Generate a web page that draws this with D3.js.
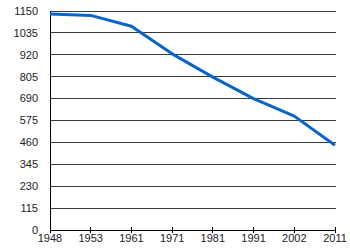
<!DOCTYPE html>
<html><head><meta charset="utf-8">
<script src="https://cdn.jsdelivr.net/npm/d3@7"></script>
<style>body{margin:0;background:#fff}svg{display:block}text{font-family:"Liberation Sans",Arial,sans-serif;font-size:11px;fill:#222}</style>
</head><body>
<svg id="c" width="350" height="250"></svg>
<script>
const years = ["1948","1953","1961","1971","1981","1991","2002","2011"];
const values = [1134,1127,1070,925,803,690,598,445];
const yTicks = [0,115,230,345,460,575,690,805,920,1035,1150];

const svg = d3.select("#c");
const x = d3.scalePoint().domain(years).range([50,335]);
const y = d3.scaleLinear().domain([0,1150]).range([230,11]);

svg.append("g").selectAll("line").data(yTicks.slice(1)).join("line")
  .attr("x1",50).attr("x2",336).attr("y1",d=>y(d)).attr("y2",d=>y(d))
  .attr("stroke","#3a3a3a").attr("stroke-width",1).attr("shape-rendering","crispEdges");

svg.append("g").selectAll("text").data(yTicks).join("text")
  .attr("x",38).attr("y",d=>y(d)).attr("dy","0.35em").attr("text-anchor","end").text(d=>d);

svg.append("line").attr("x1",50).attr("x2",50).attr("y1",y(1150)).attr("y2",230)
  .attr("stroke","#000").attr("shape-rendering","crispEdges");
svg.append("line").attr("x1",50).attr("x2",336).attr("y1",230).attr("y2",230)
  .attr("stroke","#000").attr("shape-rendering","crispEdges");

svg.append("g").selectAll("line").data(years).join("line")
  .attr("x1",d=>x(d)).attr("x2",d=>x(d)).attr("y1",227).attr("y2",233)
  .attr("stroke","#000").attr("shape-rendering","crispEdges");
svg.append("g").selectAll("text").data(years).join("text")
  .attr("x",d=>x(d)).attr("y",238).attr("dy","0.35em").attr("text-anchor","middle").text(d=>d);

const line = d3.line().x((d,i)=>x(years[i])).y(d=>y(d));
svg.append("path").datum(values).attr("d",line).attr("fill","none")
  .attr("stroke","#0a64c8").attr("stroke-width",3).attr("stroke-linejoin","round");
</script>
</body></html>
